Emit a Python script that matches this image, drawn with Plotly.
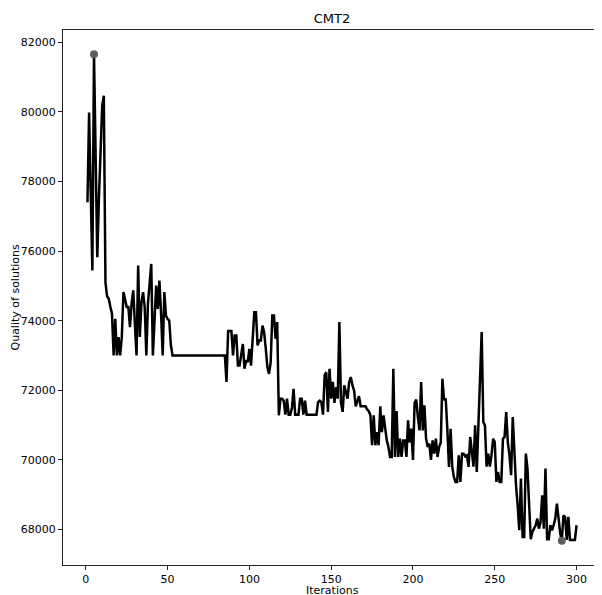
import plotly.graph_objects as go

# ---- data ----
seg_a = [77400, 79980, 77700, 75440, 81650, 78800, 75820, 77500, 79200, 80170,
         80460, 75100, 74700, 74630, 74400, 74200, 73000, 74050, 73000, 73530,
         73000, 73530, 74820, 74600, 74390, 74390, 73810, 74500, 74870, 73900,
         73000, 75580, 73530, 74500, 74820, 74390, 73000, 74500, 75200, 75630,
         73000, 74300, 75010, 74340, 75150, 74200, 73000, 74820, 74150, 74050,
         74000, 73300, 73000]
seg_b = [73000] * 32
seg_c = [72240, 73700, 73700, 73700, 73000, 73570, 73570, 72710, 72710, 73000,
         73330, 72620, 72860, 72810, 73190, 72710, 73500, 74240, 74240, 73290,
         73430, 73430, 73860, 73670, 73200, 72660, 72470, 72800, 74150, 74150,
         73480, 73960]
seg_d = [71280, 71760, 71760, 71700, 71300, 71760, 71300, 71300, 71500, 72040,
         71300, 71300, 71300, 71760, 71760, 71300, 71700, 71300, 71300, 71300,
         71300, 71300, 71300, 71300, 71660, 71700, 71660, 71300, 72430, 72520,
         71380, 72620, 71760, 72240, 71640, 72090, 71760, 73960, 71640, 71380,
         72140, 71950, 71760, 72240, 72380, 72140, 72000, 71540]
seg_e = [71700, 71830, 71540, 71540, 71540, 71540, 71450, 71400, 71280, 70420,
         71280, 70420, 70800, 70420, 71540, 70800, 71280, 70900, 70560, 70370,
         70084, 70084, 72618, 70084, 71407, 70084, 70610, 70084, 70560, 70560,
         70084, 71135, 70500, 70897, 70000, 71636, 71732, 71232, 70848, 72237,
         70848, 71566, 70610, 70370, 70470, 70000, 70560, 70180, 70610, 70084,
         70370, 70500, 72332, 71720, 71760, 70897]
seg_f = [69800, 70897, 69807, 69511, 69368, 69368, 70131, 69368, 70179, 70179,
         70100, 70130, 69800, 70658, 70131, 69807, 70992, 69655, 70992, 72140,
         73671, 71088, 70992, 69807, 70179, 69807, 70131, 70610, 70510, 69368,
         69655, 69368, 69368, 70610]
seg_g = [70660, 71376, 70500, 70131, 69559, 71233, 70200, 69272, 68697, 67980,
         69463, 67789, 67789, 70180, 69749, 68840, 67720, 67932, 68027, 68123,
         68314, 68027, 68218, 68984, 68027, 69749, 67720, 67720, 68123, 67980,
         68123, 68314, 68745, 68218, 67900, 67680, 68410, 68360, 67700, 68363,
         67700, 67700, 67700, 67700, 68123]

quality = seg_a + seg_b + seg_c + seg_d + seg_e + seg_f + seg_g
iterations = list(range(1, len(quality) + 1))

x_ticks = [0, 50, 100, 150, 200, 250, 300]
y_ticks = [68000, 70000, 72000, 74000, 76000, 78000, 80000, 82000]

title_text = "CMT2"
x_label = "Iterations"
y_label = "Quality of solutions"

# ---- extreme points ----
i_max = max(range(len(quality)), key=lambda i: quality[i])
i_min = min(range(len(quality)), key=lambda i: quality[i])

# matplotlib-like 5% margins
xmin, xmax = iterations[0], iterations[-1]
xpad = (xmax - xmin) * 0.05
ymin, ymax = min(quality), max(quality)
ypad = (ymax - ymin) * 0.05

fig = go.Figure()
fig.add_trace(go.Scatter(
    x=iterations, y=quality, mode="lines",
    line=dict(color="black", width=2.5),
    showlegend=False, hoverinfo="skip"))
fig.add_trace(go.Scatter(
    x=[iterations[i_max], iterations[i_min]],
    y=[quality[i_max], quality[i_min]],
    mode="markers",
    marker=dict(color="#5f5f5f", size=8),
    showlegend=False, hoverinfo="skip"))

font_family = "DejaVu Sans"
# the page body adds an 8px offset; size the figure so it lands like the reference
OFF = 8
W, H = 602 - OFF, 595 - OFF
left, top = 63 - OFF, 30 - OFF
right = W - (601 - OFF)
bottom = H - (565 - OFF)
plot_h = H - top - bottom
plot_w = W - left - right

fig.update_layout(
    width=W, height=H,
    margin=dict(l=left, r=right, t=top, b=bottom, autoexpand=False),
    paper_bgcolor="white", plot_bgcolor="white",
    font=dict(family=font_family, size=11, color="black"),
    title=dict(text=title_text, x=(left + plot_w / 2) / W, xanchor="center",
               y=1 - (18 - OFF) / H, yanchor="middle", yref="container",
               font=dict(size=13, color="black", family=font_family)),
    xaxis=dict(range=[xmin - xpad, xmax + xpad], tickvals=x_ticks,
               showgrid=False, zeroline=False, showline=True, mirror=True,
               linecolor="#222", linewidth=1, ticks="outside", ticklen=4,
               tickcolor="#222", automargin=False),
    yaxis=dict(range=[ymin - ypad, ymax + ypad], tickvals=y_ticks,
               tickformat="d",
               showgrid=False, zeroline=False, showline=True, mirror=True,
               linecolor="#222", linewidth=1, ticks="outside", ticklen=4,
               tickcolor="#222", automargin=False),
    annotations=[
        dict(text=x_label, xref="paper", yref="paper", x=0.5,
             y=-(590 - 565) / plot_h, xanchor="center", yanchor="middle",
             showarrow=False, font=dict(size=11)),
        dict(text=y_label, xref="paper", yref="paper",
             x=-(63 - 15) / plot_w, y=0.5, textangle=-90,
             xanchor="center", yanchor="middle", showarrow=False,
             font=dict(size=11)),
    ],
)

fig.write_html("out.html")
